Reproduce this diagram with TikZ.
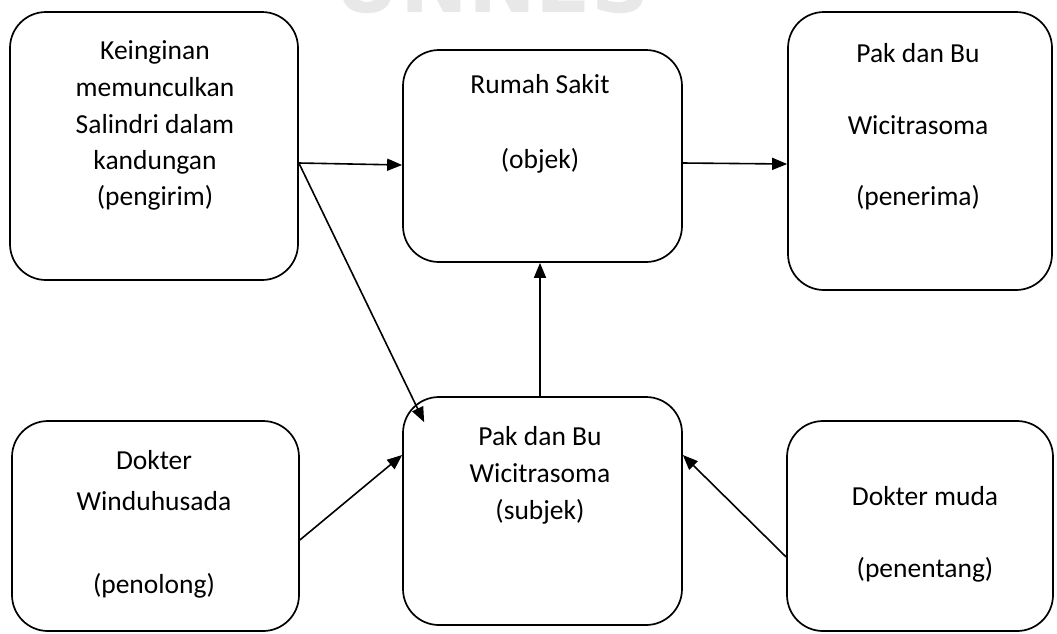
\documentclass[tikz,border=0pt]{standalone}
\usepackage{fontspec}
\setmainfont{Carlito}
\newfontfamily\wmfont{DejaVu Sans}
\usetikzlibrary{arrows.meta,calc}
\begin{document}
\begin{tikzpicture}[x=1pt,y=-1pt,
  box/.style={draw,line width=1.7pt,rounded corners=36pt,inner sep=0pt},
  lbl/.style={font=\fontsize{27.5}{33}\selectfont,anchor=base,inner sep=0pt},
  conn/.style={line width=1.6pt,-{Triangle[length=15pt,width=12pt]}}]
\useasboundingbox (0,0) rectangle (1057,633);
\clip (0,0) rectangle (1057,633);
% faint watermark at the top
\node[font=\wmfont\bfseries\fontsize{81}{81}\selectfont,text=black!9,anchor=base,inner sep=0pt] (wm) at (492,12) {UNNES};

% boxes
\node[box,minimum width=288pt,minimum height=268pt] (b1) at (154,146) {};
\node[box,minimum width=279pt,minimum height=212pt] (b2) at (542.5,156) {};
\node[box,minimum width=264pt,minimum height=278pt] (b3) at (920,151) {};
\node[box,minimum width=287pt,minimum height=210pt] (b4) at (155.5,526) {};
\node[box,minimum width=279pt,minimum height=228pt] (b5) at (542.5,511) {};
\node[box,minimum width=266pt,minimum height=210pt] (b6) at (920,526) {};

% texts
\foreach \t/\y [count=\i] in {Keinginan/59,memunculkan/96,Salindri dalam/133,kandungan/169,(pengirim)/205}
  \node[lbl] (ta\i) at (155,\y) {\t};
\foreach \t/\y [count=\i] in {Rumah Sakit/93,(objek)/168}
  \node[lbl] (tb\i) at (540,\y) {\t};
\foreach \t/\y [count=\i] in {Pak dan Bu/62,Wicitrasoma/134,(penerima)/205}
  \node[lbl] (tc\i) at (918,\y) {\t};
\foreach \t/\y [count=\i] in {Dokter/469,Winduhusada/510,(penolong)/593}
  \node[lbl] (td\i) at (154,\y) {\t};
\foreach \t/\y [count=\i] in {Pak dan Bu/445,Wicitrasoma/482,(subjek)/519}
  \node[lbl] (te\i) at (540,\y) {\t};
\foreach \t/\y [count=\i] in {Dokter muda/505,(penentang)/577}
  \node[lbl] (tf\i) at (925,\y) {\t};

% connectors
\draw[conn] ([yshift=-17pt]b1.east) -- ([yshift=-9pt]b2.west);
\draw[conn] ([yshift=-7pt]b2.east) -- ([yshift=-13pt]b3.west);
\draw[conn] ([yshift=-17pt]b1.east) -- ([shift={(22,26)}]b5.north west);
\draw[conn] ([xshift=-2.5pt]b5.north) -- ([xshift=-2.5pt]b2.south);
\draw[conn] ([yshift=-14pt]b4.east) -- ([yshift=56pt]b5.west);
\draw[conn] ([yshift=-31pt]b6.west) -- ([yshift=56pt]b5.east);
\end{tikzpicture}
\end{document}
